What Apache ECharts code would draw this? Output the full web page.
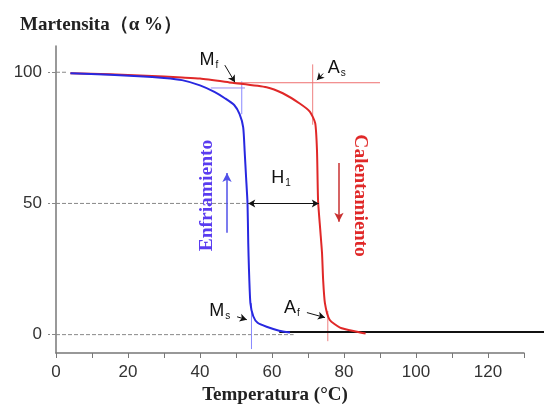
<!DOCTYPE html>
<html>
<head>
<meta charset="utf-8">
<script src="https://cdn.jsdelivr.net/npm/echarts@6/dist/echarts.min.js"></script>
<style>
html,body{margin:0;padding:0;background:#fff}
#main{width:544px;height:406px}
</style>
</head>
<body>
<div id="main"></div>
<script>
// 坐标轴刻度
var xTicks = [0, 20, 40, 60, 80, 100, 120];
var yTicks = [0, 50, 100];
// 冷却曲线 (Enfriamiento)
var coolX = [4, 15, 23, 30, 35, 40, 44, 47, 49.5, 51, 52, 52.4, 52.8, 53.2, 53.4, 53.6, 54, 54.8, 56, 58.5, 62, 65];
var coolY = [99.6, 99, 98.5, 97.8, 97, 95, 92.5, 90, 87.5, 84, 79, 70, 60, 50, 35, 25, 12, 7, 4.5, 3, 1.5, 0.8];
// 加热曲线 (Calentamiento)
var heatX = [4, 15, 25, 35, 40, 49, 58.5, 63, 67.8, 70.5, 72, 72.5, 72.8, 73.4, 73.9, 74.2, 74.7, 76, 78.9, 83.6, 86];
var heatY = [99.6, 99.2, 98.7, 98, 97.6, 96, 94.3, 92, 88, 85, 80.6, 70, 51, 40, 31, 21, 12, 5.7, 2.7, 1.1, 0.4];
// 奥氏体基线 (画到图片右边缘)
var baseX = [62, 135.5];
var baseY = [1, 1];
// 辅助线 Mf / As / Ms / Af
var mfV = [[51.6, 96.5], [51.6, 84]];
var mfH = [[43, 94], [52.5, 94]];
var asV = [[71.3, 103], [71.3, 80]];
var asH = [[48, 96], [90, 96]];
var msV = [[54.3, 12], [54.3, -5.5]];
var afV = [[75.5, 9], [75.5, -2.5]];
// 虚线
var dash100 = [[0, 100], [3, 100]];
var dash50 = [[0, 50], [53.2, 50]];
var dash0 = [[0, 0], [66, 0]];

var chart;
function pairs(xs, ys) {
    var out = [];
    for (var i = 0; i < xs.length; i++) {
        out.push([xs[i], ys[i]]);
    }
    return out;
}
function thin(name, data, color, type) {
    return {
        name: name, type: 'line', data: data, symbol: 'none', silent: true,
        lineStyle: {color: color, width: 1, type: type || 'solid'}, z: 1
    };
}
function arrow(from, to, both) {
    return [{coord: from, symbol: both ? 'arrow' : 'none'}, {coord: to, symbol: 'arrow'}];
}
function initChart() {
    chart = echarts.init(document.getElementById('main'));
    option = {
        animation: false,
        backgroundColor: '#fff',
        title: {
            text: 'Martensita（α %）',
            left: 15,
            top: 11,
            textStyle: {fontFamily: 'Liberation Serif', fontWeight: 'bold', fontSize: 19, color: '#222'}
        },
        grid: [
            {left: 56, right: 20, top: 46, bottom: 53, outerBoundsMode: 'none'},
            // 第二个网格只用来让基线延伸到右边
            {left: 56, right: 0, top: 46, bottom: 53, outerBoundsMode: 'none'}
        ],
        xAxis: [{
            type: 'value',
            gridIndex: 0,
            min: 0,
            max: 130,
            interval: 10,
            name: 'Temperatura (°C)',
            nameLocation: 'middle',
            nameGap: 31,
            nameTextStyle: {fontFamily: 'Liberation Serif', fontWeight: 'bold', fontSize: 19, color: '#222', padding: [0, 30, 0, 0]},
            axisLine: {onZero: false, lineStyle: {color: '#777', width: 1.5}},
            axisTick: {length: 5, lineStyle: {color: '#777'}},
            splitLine: {show: false},
            axisLabel: {
                margin: 11,
                fontFamily: 'Liberation Sans',
                fontSize: 17,
                color: '#333',
                formatter: function (v) { return xTicks.indexOf(v) >= 0 ? v : ''; }
            }
        }, {
            type: 'value', gridIndex: 1, min: 0, max: 135.5, show: false,
            axisLine: {show: false}, axisTick: {show: false}, axisLabel: {show: false}, splitLine: {show: false}
        }],
        yAxis: [{
            type: 'value',
            gridIndex: 0,
            min: -7,
            max: 110,
            axisLine: {show: true, onZero: false, lineStyle: {color: '#777', width: 1.5}},
            axisTick: {show: true, customValues: yTicks, length: 8, lineStyle: {color: '#888', type: 'dashed'}},
            splitLine: {show: false},
            axisLabel: {customValues: yTicks, margin: 14, fontFamily: 'Liberation Sans', fontSize: 17, color: '#333'}
        }, {
            type: 'value', gridIndex: 1, min: -7, max: 110, show: false,
            axisLine: {show: false}, axisTick: {show: false}, axisLabel: {show: false}, splitLine: {show: false}
        }],
        series: [
            thin('d100', dash100, '#888', 'dashed'),
            thin('d50', dash50, '#888', 'dashed'),
            thin('d0', dash0, '#888', 'dashed'),
            thin('mfV', mfV, '#8888ff'),
            thin('mfH', mfH, '#9a8cf0'),
            thin('msV', msV, '#8888ff'),
            thin('asV', asV, '#ee8080'),
            thin('asH', asH, '#ee7070'),
            thin('afV', afV, '#ee8080'),
            {
                name: 'base', type: 'line', xAxisIndex: 1, yAxisIndex: 1,
                data: pairs(baseX, baseY), symbol: 'none',
                lineStyle: {color: '#111', width: 2}, z: 2
            },
            {
                name: 'Calentamiento', type: 'line', data: pairs(heatX, heatY), symbol: 'none', smooth: 0.2,
                lineStyle: {color: '#e02828', width: 2}, z: 3,
                markLine: {
                    silent: true, symbolSize: [7, 9], label: {show: false},
                    lineStyle: {color: '#c83030', width: 1.5, type: 'solid'},
                    data: [arrow([78.6, 65.4], [78.6, 43])]
                }
            },
            {
                name: 'Enfriamiento', type: 'line', data: pairs(coolX, coolY), symbol: 'none', smooth: 0.2,
                lineStyle: {color: '#2828e0', width: 2}, z: 4,
                markLine: {
                    silent: true, symbolSize: [7, 9], label: {show: false},
                    lineStyle: {color: '#5050e8', width: 1.5, type: 'solid'},
                    data: [arrow([47.5, 38.8], [47.5, 61.6])]
                }
            },
            {
                name: 'notas', type: 'line', data: [], symbol: 'none',
                markLine: {
                    silent: true, symbolSize: [6, 7], label: {show: false},
                    lineStyle: {color: '#111', width: 1, type: 'solid'},
                    data: [
                        arrow([53.4, 50], [73, 50], true),
                        arrow([46.9, 102.7], [49.7, 96.2]),
                        arrow([74.2, 99.5], [72.5, 97]),
                        arrow([50.3, 6.8], [53, 5.7]),
                        arrow([69.7, 8.4], [74.7, 6.5])
                    ]
                }
            }
        ]
    };
    chart.setOption(option);
}
// 文字标注
function addLabels() {
    function p(x, y) { return chart.convertToPixel({gridIndex: 0}, [x, y]); }
    function sub(main, s, x, y) {
        var c = p(x, y);
        return {
            type: 'text', x: c[0], y: c[1], z: 100,
            style: {
                text: '{a|' + main + '}{b|' + s + '}',
                align: 'center', verticalAlign: 'middle',
                rich: {
                    a: {fontFamily: 'Liberation Sans', fontSize: 18, fill: '#111'},
                    b: {fontFamily: 'Liberation Sans', fontSize: 10, fill: '#111', verticalAlign: 'bottom', padding: [10, 0, 0, 1]}
                }
            }
        };
    }
    function vtext(t, x, y, color, rot) {
        var c = p(x, y);
        return {
            type: 'text', x: c[0], y: c[1], rotation: rot, z: 100,
            style: {
                text: t, align: 'center', verticalAlign: 'middle',
                fontFamily: 'Liberation Serif', fontWeight: 'bold', fontSize: 19.5, fill: color
            }
        };
    }
    chart.setOption({
        graphic: [
            sub('M', 'f', 42.5, 104.5),
            sub('A', 's', 78, 101.5),
            sub('M', 's', 45.5, 9),
            sub('A', 'f', 65.5, 10),
            sub('H', '1', 62.5, 59.5),
            vtext('Enfriamiento', 42, 53, '#5a3cf0', Math.PI / 2),
            vtext('Calentamiento', 84.4, 53, '#e02828', -Math.PI / 2)
        ]
    });
}
initChart();
addLabels();
</script>
</body>
</html>
